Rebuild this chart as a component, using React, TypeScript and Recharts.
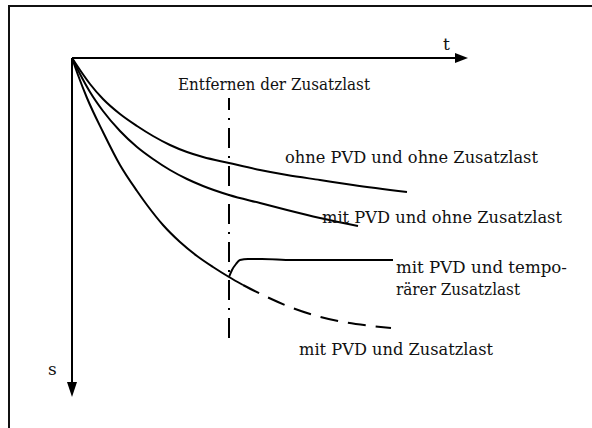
import React from 'react';
import { LineChart, Line, XAxis, YAxis, ReferenceLine, ReferenceDot } from 'recharts';

// t: time (0..396), s: settlement (0..339, downward)
const T_OHNE = [0, 8, 18, 31, 48, 65, 81, 98, 115, 131, 157, 188, 215, 248, 281, 335];
const S_OHNE = [0, 12, 26, 41, 56, 68, 78, 87, 94, 99, 105, 112, 117, 122, 127, 134];

const T_PVD = [0, 8, 18, 31, 48, 65, 81, 98, 115, 131, 157, 188, 215, 248, 286];
const S_PVD = [0, 16, 34, 53, 73, 89, 101, 112, 121, 128, 137, 145, 152, 160, 168];

const T_LAST = [0, 6, 15, 31, 48, 65, 75, 91, 108, 125, 141, 157, 171];
const S_LAST = [0, 17, 40, 74, 107, 133, 147, 167, 184, 198, 209, 219, 227];

const T_LAST_DASH = [171, 195, 218, 245, 271, 300, 319];
const S_LAST_DASH = [227, 239, 249, 258, 264, 268, 270];

const T_TEMP = [157, 160, 164, 168, 176, 190, 220, 321];
const S_TEMP = [219, 212, 206, 202, 201, 201, 202, 202];

const T_REMOVE = 157;
const T_MAX = 396;
const S_MAX = 339;

const LABELS = [
  { text: 'Entfernen der Zusatzlast', t: 106, s: 32, w: 192 },
  { text: 'ohne PVD und ohne Zusatzlast', t: 213, s: 105, w: 253 },
  { text: 'mit PVD und ohne Zusatzlast', t: 250, s: 165, w: 240 },
  { text: 'mit PVD und tempo-', t: 324, s: 215, w: 171 },
  { text: 'rärer Zusatzlast', t: 324, s: 237, w: 124 },
  { text: 'mit PVD und Zusatzlast', t: 227, s: 297, w: 194 },
];

const zip = (t: number[], s: number[]) => t.map((x, i) => ({ t: x, s: s[i] }));

const FONT = 'DejaVu Serif';

const textShape = (label: string, width?: number) => (props: any) => (
  <text
    x={props.cx}
    y={props.cy}
    fontFamily={FONT}
    fontSize={17}
    fill="#111"
    {...(width ? { textLength: width, lengthAdjust: 'spacingAndGlyphs' } : {})}
  >
    {label}
  </text>
);

const arrowRight = (props: any) => (
  <polygon
    points={`${props.cx},${props.cy} ${props.cx - 13},${props.cy - 5} ${props.cx - 13},${props.cy + 5}`}
    fill="#000"
  />
);

const arrowDown = (props: any) => (
  <polygon
    points={`${props.cx},${props.cy} ${props.cx - 5},${props.cy - 15} ${props.cx + 5},${props.cy - 15}`}
    fill="#000"
  />
);

export default function App() {
  return (
    <div style={{ position: 'absolute', left: 0, top: 0, width: 592, height: 428, overflow: 'hidden', background: '#fff' }}>
      <div
        style={{
          position: 'absolute',
          left: 8,
          top: 5,
          width: 620,
          height: 440,
          borderLeft: '2px solid #111',
          borderTop: '2px solid #111',
        }}
      />
      <div style={{ position: 'absolute', left: 0, top: 0 }}>
        <LineChart width={592} height={428} margin={{ top: 58, left: 72, right: 124, bottom: 31 }}>
          <XAxis type="number" dataKey="t" domain={[0, T_MAX]} allowDataOverflow hide />
          <YAxis type="number" dataKey="s" domain={[0, S_MAX]} allowDataOverflow reversed hide />
          <ReferenceLine segment={[{ x: 0, y: 0 }, { x: T_MAX - 6, y: 0 }]} stroke="#000" strokeWidth={2} ifOverflow="visible" />
          <ReferenceLine segment={[{ x: 0, y: 0 }, { x: 0, y: S_MAX - 8 }]} stroke="#000" strokeWidth={2} ifOverflow="visible" />
          <ReferenceLine
            segment={[{ x: T_REMOVE, y: 40 }, { x: T_REMOVE, y: 280 }]}
            stroke="#000"
            strokeWidth={2}
            strokeDasharray="20 8 2 8"
            strokeDashoffset={8}
          />
          <Line data={zip(T_OHNE, S_OHNE)} dataKey="s" type="monotone" stroke="#000" strokeWidth={2} dot={false} isAnimationActive={false} />
          <Line data={zip(T_PVD, S_PVD)} dataKey="s" type="monotone" stroke="#000" strokeWidth={2} dot={false} isAnimationActive={false} />
          <Line data={zip(T_LAST, S_LAST)} dataKey="s" type="monotone" stroke="#000" strokeWidth={2} dot={false} isAnimationActive={false} />
          <Line data={zip(T_LAST_DASH, S_LAST_DASH)} dataKey="s" type="monotone" stroke="#000" strokeWidth={2} strokeDasharray="18 10" dot={false} isAnimationActive={false} />
          <Line data={zip(T_TEMP, S_TEMP)} dataKey="s" type="monotone" stroke="#000" strokeWidth={2} dot={false} isAnimationActive={false} />
          <ReferenceDot x={T_MAX} y={0} r={0} ifOverflow="visible" shape={arrowRight} />
          <ReferenceDot x={0} y={S_MAX} r={0} ifOverflow="visible" shape={arrowDown} />
          <ReferenceDot x={371} y={-8} r={0} ifOverflow="visible" shape={textShape('t')} />
          <ReferenceDot x={-24} y={317} r={0} ifOverflow="visible" shape={textShape('s')} />
          {LABELS.map((l) => (
            <ReferenceDot key={l.text} x={l.t} y={l.s} r={0} ifOverflow="visible" shape={textShape(l.text, l.w)} />
          ))}
        </LineChart>
      </div>
    </div>
  );
}
